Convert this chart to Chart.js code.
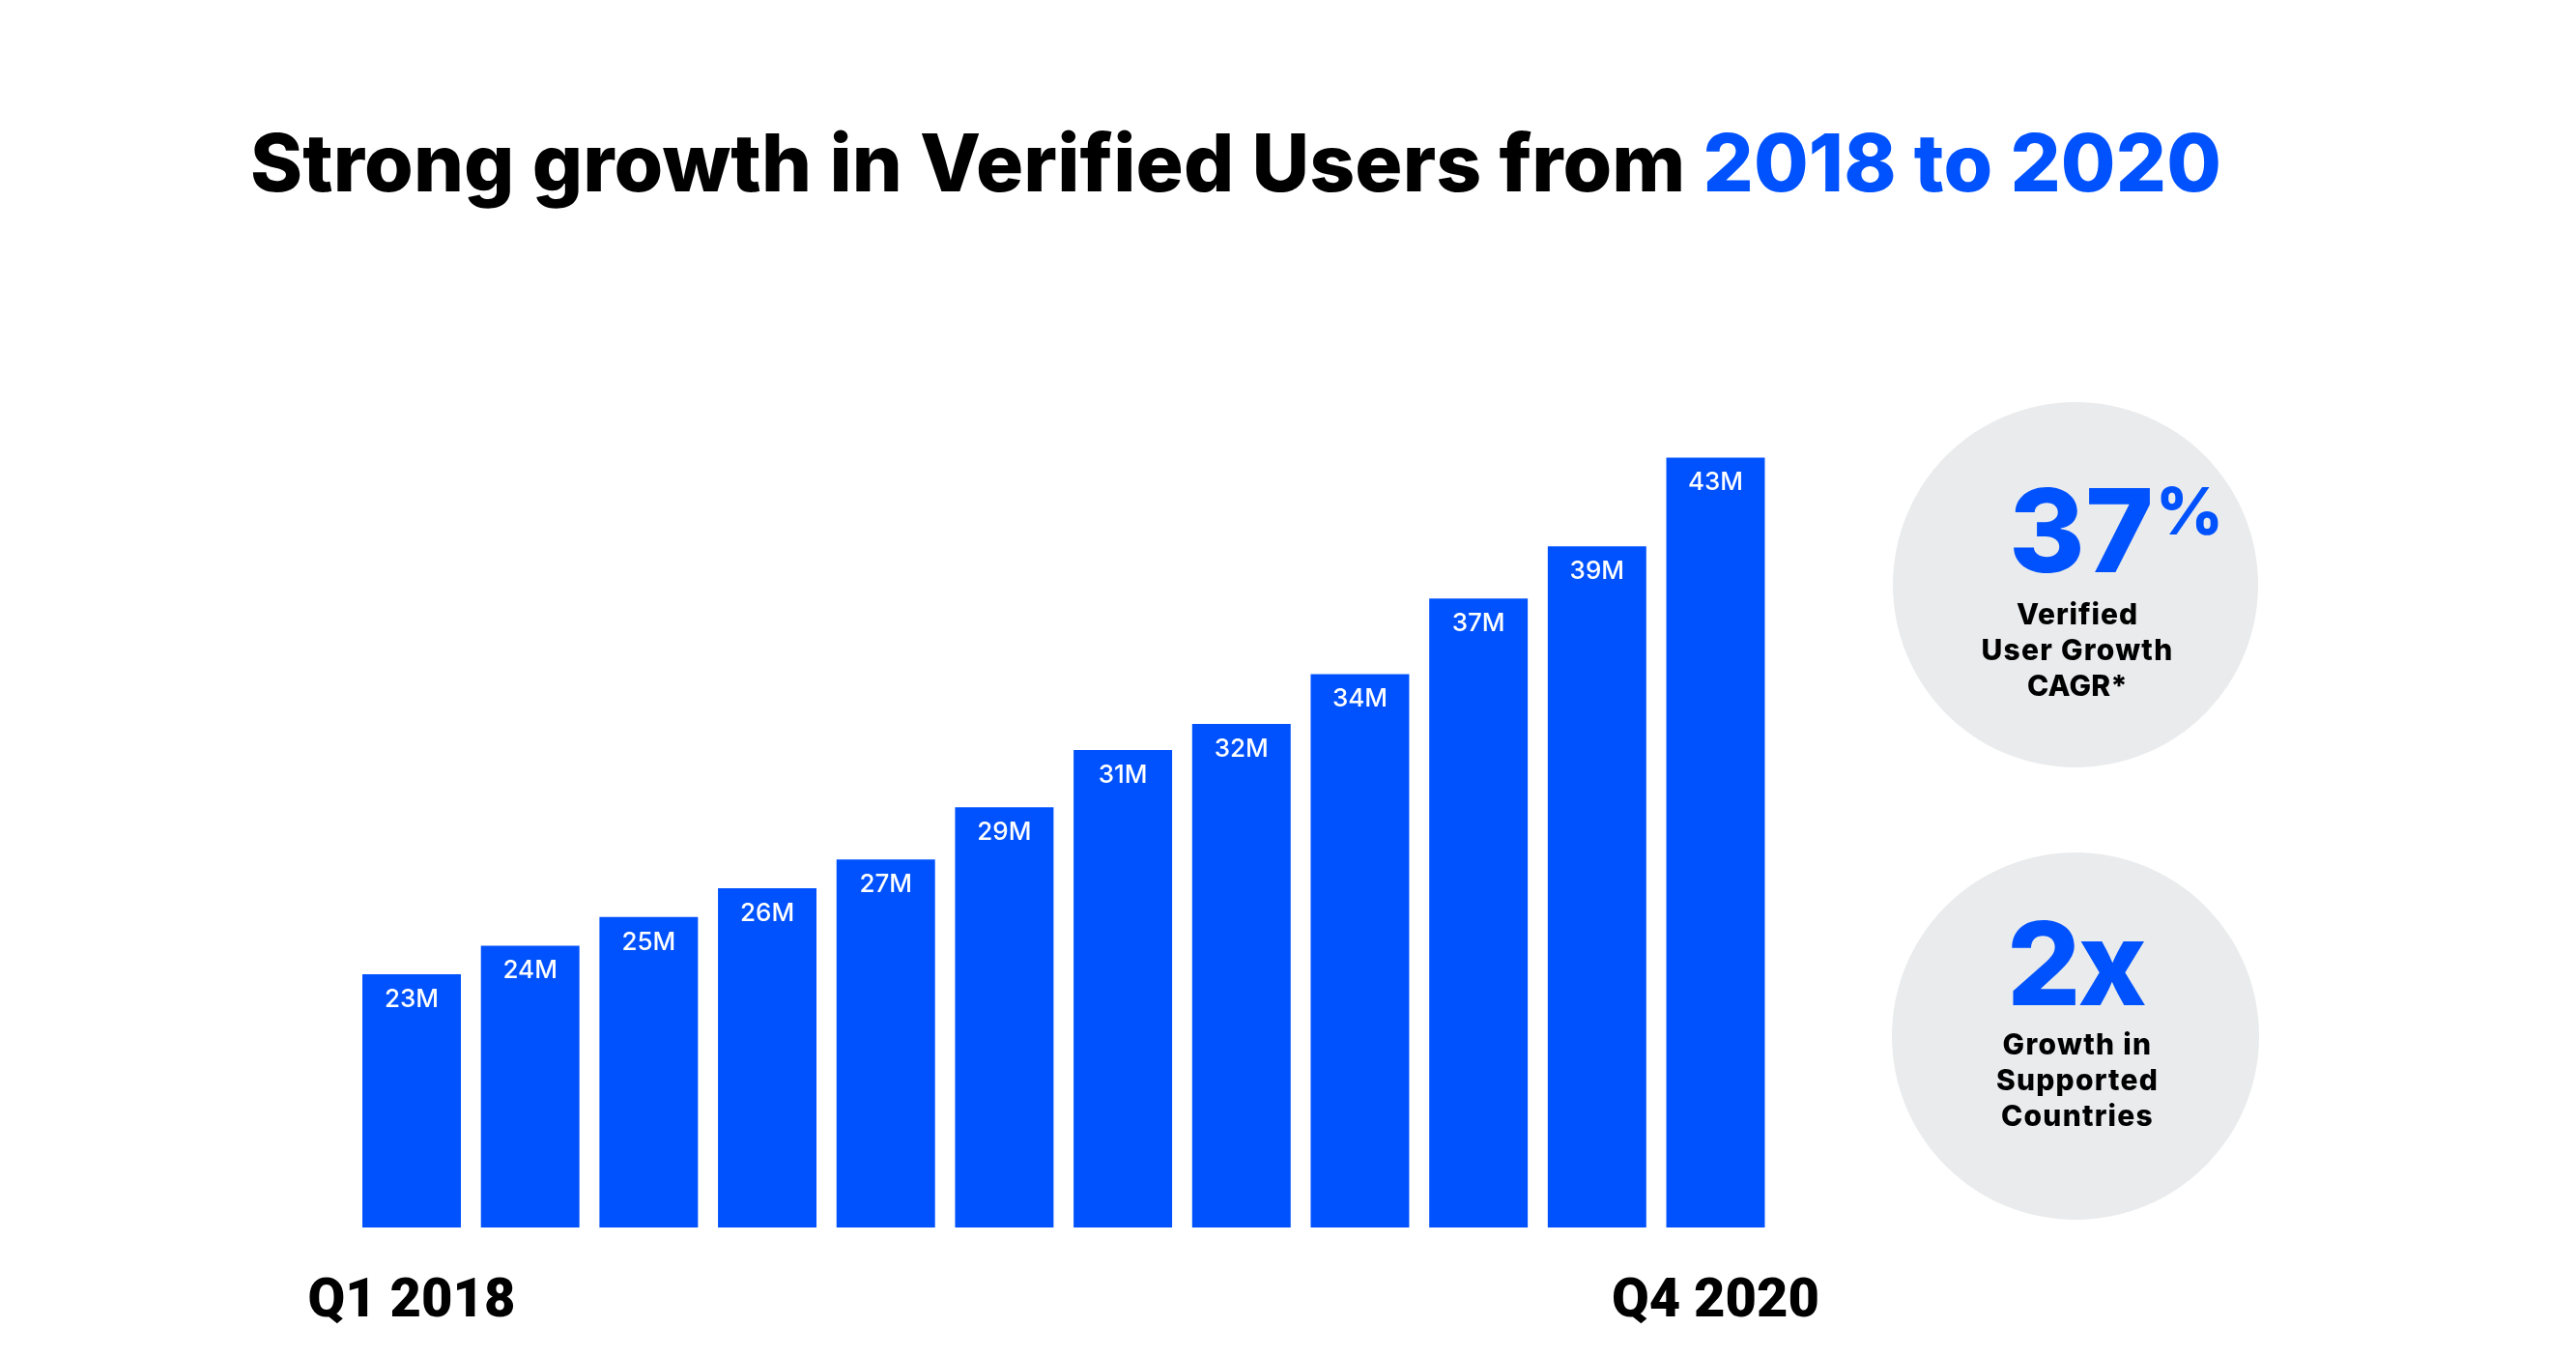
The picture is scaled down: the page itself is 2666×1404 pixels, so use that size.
<!DOCTYPE html>
<html>
<head>
<meta charset="utf-8">
<script src="https://cdn.jsdelivr.net/npm/chart.js@4.4.0/dist/chart.umd.min.js"></script>
<style>
  html, body { margin: 0; padding: 0; background: #fff; }
  #wrap { position: relative; width: 2666px; height: 1404px; overflow: hidden; background: #fff; }
  #c { position: absolute; left: 0; top: 0; }
  .t { position: absolute; white-space: nowrap; font-family: Inter, Roboto, 'Noto Sans', sans-serif; font-weight: 800; color: #000; line-height: 1; }
  .circle { position: absolute; border-radius: 50%; background: #e9ebec; }
  .blue { color: #0052ff; }
</style>
</head>
<body>
<div id="wrap">
  <div class="circle" id="circ1"></div>
  <div class="circle" id="circ2"></div>
  <canvas id="c" width="2666" height="1404"></canvas>
  <div class="t" id="title">Strong growth in Verified Users from <span class="blue">2018 to 2020</span></div>
  <div class="t blue" id="n1">37</div>
  <div class="t blue" id="p1">%</div>
  <div class="t" id="a1">Verified</div>
  <div class="t" id="a2">User Growth</div>
  <div class="t" id="a3">CAGR*</div>
  <div class="t blue" id="n2">2x</div>
  <div class="t" id="b1">Growth in</div>
  <div class="t" id="b2">Supported</div>
  <div class="t" id="b3">Countries</div>
</div>
<script>
// ---- data ----
const quarters = ['Q1 2018', 'Q2 2018', 'Q3 2018', 'Q4 2018',
                  'Q1 2019', 'Q2 2019', 'Q3 2019', 'Q4 2019',
                  'Q1 2020', 'Q2 2020', 'Q3 2020', 'Q4 2020'];
const verifiedUsersM = [22.7, 23.8, 24.9, 26.0, 27.1, 29.1, 31.3, 32.3, 34.2, 37.1, 39.1, 42.5];
const valueLabels = ['23M', '24M', '25M', '26M', '27M', '29M', '31M', '32M', '34M', '37M', '39M', '43M'];
const shownTicks = ['Q1 2018', 'Q4 2020'];

const BLUE = '#0052ff';

// ---- text helpers ----
function baselineOf(el) {
  const m = document.createElement('span');
  m.style.cssText = 'display:inline-block;width:0;height:0;vertical-align:baseline;';
  el.appendChild(m);
  const b = m.offsetTop;
  el.removeChild(m);
  return b;
}
function place(id, size, x, baseline, align, targetWidth) {
  const el = document.getElementById(id);
  el.style.fontSize = size + 'px';
  el.style.letterSpacing = '0px';
  if (targetWidth) {
    const w0 = el.getBoundingClientRect().width;
    const n = el.textContent.length;
    el.style.letterSpacing = ((targetWidth - w0) / n) + 'px';
  }
  const w = el.getBoundingClientRect().width;
  el.style.top = '0px';
  const b = baselineOf(el);
  el.style.top = (baseline - b) + 'px';
  el.style.left = (align === 'center' ? x - w / 2 : x) + 'px';
  return w;
}
function circle(id, cx, cy, r) {
  const el = document.getElementById(id);
  el.style.left = (cx - r) + 'px';
  el.style.top = (cy - r) + 'px';
  el.style.width = (2 * r) + 'px';
  el.style.height = (2 * r) + 'px';
}

circle('circ1', 2148, 605, 189);
circle('circ2', 2148, 1072, 190);

place('title', 82, 259, 198, 'left', 2040);
const w37 = place('n1', 120, 2079, 592, 'left', 150);
place('p1', 68, 2079 + w37 + 2, 553, 'left', 56);
place('a1', 30, 2150, 646, 'center', 126);
place('a2', 30, 2150, 683, 'center', 199);
place('a3', 30, 2150, 720, 'center', 104);
place('n2', 120, 2148, 1040, 'center', 142);
place('b1', 30, 2150, 1091, 'center', 155);
place('b2', 30, 2150, 1128, 'center', 168);
place('b3', 30, 2150, 1165, 'center', 158);

// ---- chart ----
const barLabels = {
  id: 'barLabels',
  afterDatasetsDraw(chart) {
    const ctx = chart.ctx;
    const meta = chart.getDatasetMeta(0);
    ctx.save();
    ctx.fillStyle = '#ffffff';
    ctx.font = '500 26px Inter, Roboto, sans-serif';
    ctx.textAlign = 'center';
    ctx.textBaseline = 'middle';
    meta.data.forEach((bar, i) => {
      ctx.fillText(valueLabels[i], bar.x, bar.y + 26);
    });
    ctx.restore();
  }
};

new Chart(document.getElementById('c'), {
  type: 'bar',
  data: {
    labels: quarters,
    datasets: [{
      data: verifiedUsersM,
      backgroundColor: BLUE,
      borderWidth: 0,
      barPercentage: 0.831,
      categoryPercentage: 1.0
    }]
  },
  options: {
    responsive: false,
    animation: false,
    devicePixelRatio: 1,
    layout: { padding: { left: 364.66, right: 829.16, top: 406, bottom: 22 } },
    plugins: { legend: { display: false }, tooltip: { enabled: false }, title: { display: false } },
    scales: {
      x: {
        grid: { display: false, drawTicks: true, tickLength: 44.8 },
        border: { display: false },
        ticks: {
          autoSkip: false, maxRotation: 0, minRotation: 0, padding: 0,
          color: '#000',
          font: { family: 'Roboto', weight: 900, size: 56, lineHeight: 1.2 },
          callback: (v, i) => shownTicks.includes(quarters[i]) ? quarters[i] : ''
        }
      },
      y: { display: false, min: 13, max: 45 }
    }
  },
  plugins: [barLabels]
});
</script>
</body>
</html>
